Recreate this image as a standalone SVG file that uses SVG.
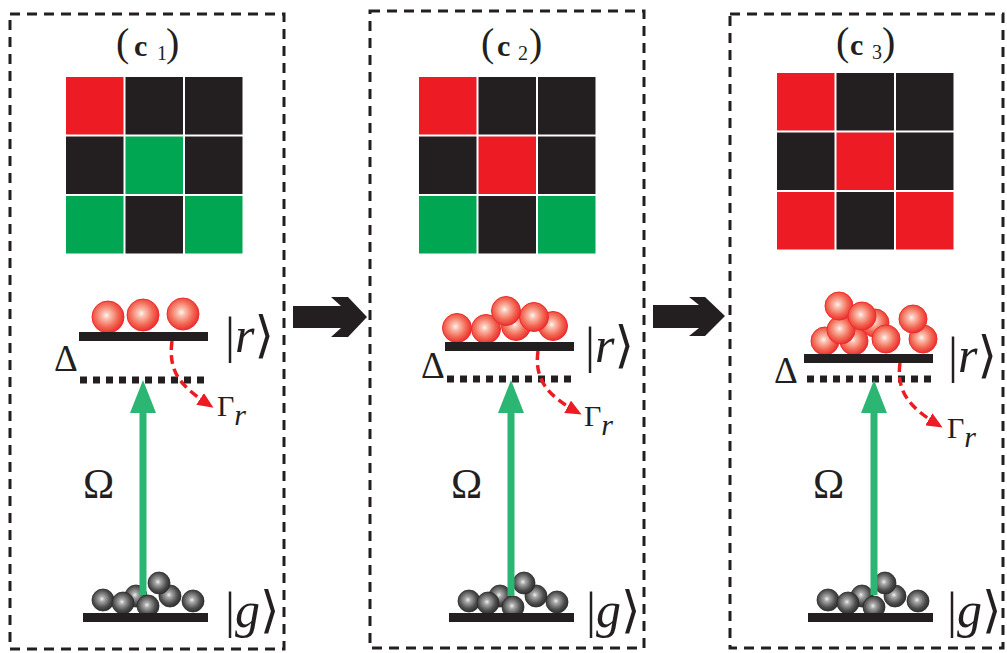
<svg xmlns="http://www.w3.org/2000/svg" width="1007" height="653" viewBox="0 0 1007 653" font-family="'Liberation Serif', 'DejaVu Serif', serif">
  <defs>
    <radialGradient id="redBall" cx="0.45" cy="0.45" r="0.6">
      <stop offset="0" stop-color="#FFF6F2"/>
      <stop offset="0.18" stop-color="#FBC2B2"/>
      <stop offset="0.6" stop-color="#F26A55"/>
      <stop offset="1" stop-color="#EC2027"/>
    </radialGradient>
    <radialGradient id="grayBall" cx="0.45" cy="0.45" r="0.6">
      <stop offset="0" stop-color="#F2F2F2"/>
      <stop offset="0.2" stop-color="#A9A9A9"/>
      <stop offset="0.65" stop-color="#4E4E4E"/>
      <stop offset="1" stop-color="#262626"/>
    </radialGradient>
    <marker id="redHead" markerWidth="16" markerHeight="14" refX="13" refY="7" orient="auto" markerUnits="userSpaceOnUse">
      <path d="M0,0 L16,7 L0,14 z" fill="#ED1C24"/>
    </marker>
  </defs>
  <style>
    .frame{fill:none;stroke:#231F20;stroke-width:3;stroke-dasharray:10 7}
    .cr{fill:#ED1C24}
    .ck{fill:#231F20}
    .cg{fill:#00A651}
    .bar{fill:#231F20}
    .lvl{stroke:#231F20;stroke-width:7;stroke-dasharray:7 6}
    .pump{stroke:#2BB673;stroke-width:7}
    .pumphead{fill:#2BB673}
    .decay{fill:none;stroke:#ED1C24;stroke-width:3.5;stroke-dasharray:9 5}
    .rb{fill:url(#redBall);stroke:#EE2A2A;stroke-width:1}
    .gb{fill:url(#grayBall);stroke:#2A2A2A;stroke-width:0.8}
    .step{fill:#231F20}
    text{fill:#231F20}
    .ket{font-size:50px}
    .title{font-size:40px}
    .tc{font-size:30px;font-weight:bold}
    .ts{font-size:20px}
    .big{font-size:42px}
    .delta{font-size:37px}
    .gam{font-size:30px}
    .it{font-style:italic}
  </style>

  <!-- panel c1 -->
  <g id="panel-c1">
    <rect class="frame" x="10" y="14" width="274" height="635"/>
    <text class="title" x="116" y="56">(</text>
    <text class="tc" x="134" y="56">c</text>
    <text class="ts" x="157" y="60">1</text>
    <text class="title" x="166" y="56">)</text>
    <rect class="cr" x="66" y="77" width="57.5" height="57.5"/>
    <rect class="ck" x="125.5" y="77" width="57.5" height="57.5"/>
    <rect class="ck" x="185" y="77" width="57.5" height="57.5"/>
    <rect class="ck" x="66" y="136.5" width="57.5" height="57.5"/>
    <rect class="cg" x="125.5" y="136.5" width="57.5" height="57.5"/>
    <rect class="ck" x="185" y="136.5" width="57.5" height="57.5"/>
    <rect class="cg" x="66" y="196" width="57.5" height="57.5"/>
    <rect class="ck" x="125.5" y="196" width="57.5" height="57.5"/>
    <rect class="cg" x="185" y="196" width="57.5" height="57.5"/>
  </g>
  <g id="rydberg-c1">
    <circle class="rb" cx="108" cy="317" r="16"/>
    <circle class="rb" cx="143" cy="315" r="16"/>
    <circle class="rb" cx="183" cy="314" r="16"/>
    <rect class="bar" x="79" y="332" width="129" height="9"/>
    <line class="lvl" x1="80" y1="380" x2="206" y2="380"/>
    <text class="delta" x="54" y="371">Δ</text>
    <text class="ket" x="225" y="352">|<tspan class="it">r</tspan>⟩</text>
    <text class="gam" x="217" y="416">Γ<tspan class="it" dy="9">r</tspan></text>
  </g>
  <g id="ground-c1">
    <circle class="gb" cx="136" cy="596" r="11"/>
    <circle class="gb" cx="103" cy="600" r="11"/>
    <circle class="gb" cx="123" cy="603" r="11"/>
    <circle class="gb" cx="170" cy="596" r="11"/>
    <circle class="gb" cx="148" cy="606" r="11"/>
    <circle class="gb" cx="159" cy="583" r="11"/>
    <circle class="gb" cx="193" cy="601" r="11"/>
    <rect class="bar" x="83" y="613" width="125" height="9"/>
    <text class="ket" x="225" y="627">|<tspan class="it">g</tspan>⟩</text>
    <text class="big" x="83" y="498">Ω</text>
  </g>

  <!-- panel c2 -->
  <g id="panel-c2">
    <rect class="frame" x="370" y="11" width="274" height="637"/>
    <text class="title" x="481" y="56">(</text>
    <text class="tc" x="497" y="56">c</text>
    <text class="ts" x="518" y="60">2</text>
    <text class="title" x="529" y="56">)</text>
    <rect class="cr" x="419" y="77" width="57.5" height="57.5"/>
    <rect class="ck" x="478.5" y="77" width="57.5" height="57.5"/>
    <rect class="ck" x="538" y="77" width="57.5" height="57.5"/>
    <rect class="ck" x="419" y="136.5" width="57.5" height="57.5"/>
    <rect class="cr" x="478.5" y="136.5" width="57.5" height="57.5"/>
    <rect class="ck" x="538" y="136.5" width="57.5" height="57.5"/>
    <rect class="cg" x="419" y="196" width="57.5" height="57.5"/>
    <rect class="ck" x="478.5" y="196" width="57.5" height="57.5"/>
    <rect class="cg" x="538" y="196" width="57.5" height="57.5"/>
  </g>
  <g id="rydberg-c2">
    <circle class="rb" cx="457" cy="328" r="14.5"/>
    <circle class="rb" cx="486" cy="329" r="14.5"/>
    <circle class="rb" cx="516" cy="326" r="14.5"/>
    <circle class="rb" cx="553" cy="326" r="14.5"/>
    <circle class="rb" cx="534" cy="317" r="14.5"/>
    <circle class="rb" cx="506" cy="311" r="14.5"/>
    <rect class="bar" x="445" y="342" width="129" height="9"/>
    <line class="lvl" x1="447" y1="379" x2="573" y2="379"/>
    <text class="delta" x="421" y="378">Δ</text>
    <text class="ket" x="585" y="362">|<tspan class="it">r</tspan>⟩</text>
    <text class="gam" x="584" y="426">Γ<tspan class="it" dy="9">r</tspan></text>
  </g>
  <g id="ground-c2">
    <circle class="gb" cx="500" cy="596" r="11"/>
    <circle class="gb" cx="469" cy="601" r="11"/>
    <circle class="gb" cx="488" cy="603" r="11"/>
    <circle class="gb" cx="536" cy="596" r="11"/>
    <circle class="gb" cx="513" cy="607" r="11"/>
    <circle class="gb" cx="524" cy="583" r="11"/>
    <circle class="gb" cx="557" cy="602" r="11"/>
    <rect class="bar" x="449" y="613" width="125" height="9"/>
    <text class="ket" x="586" y="627">|<tspan class="it">g</tspan>⟩</text>
    <text class="big" x="451" y="498">Ω</text>
  </g>

  <!-- panel c3 -->
  <g id="panel-c3">
    <rect class="frame" x="730" y="14" width="273" height="634"/>
    <text class="title" x="836" y="55">(</text>
    <text class="tc" x="850" y="55">c</text>
    <text class="ts" x="872" y="59">3</text>
    <text class="title" x="882" y="55">)</text>
    <rect class="cr" x="777" y="73" width="57.5" height="57.5"/>
    <rect class="ck" x="836.5" y="73" width="57.5" height="57.5"/>
    <rect class="ck" x="896" y="73" width="57.5" height="57.5"/>
    <rect class="ck" x="777" y="132.5" width="57.5" height="57.5"/>
    <rect class="cr" x="836.5" y="132.5" width="57.5" height="57.5"/>
    <rect class="ck" x="896" y="132.5" width="57.5" height="57.5"/>
    <rect class="cr" x="777" y="192" width="57.5" height="57.5"/>
    <rect class="ck" x="836.5" y="192" width="57.5" height="57.5"/>
    <rect class="cr" x="896" y="192" width="57.5" height="57.5"/>
  </g>
  <g id="rydberg-c3">
    <circle class="rb" cx="875" cy="323" r="14"/>
    <circle class="rb" cx="825" cy="341" r="14"/>
    <circle class="rb" cx="854" cy="341" r="14"/>
    <circle class="rb" cx="886" cy="339" r="14"/>
    <circle class="rb" cx="841" cy="330" r="14"/>
    <circle class="rb" cx="839" cy="306" r="14"/>
    <circle class="rb" cx="862" cy="316" r="14"/>
    <circle class="rb" cx="923" cy="339" r="14"/>
    <circle class="rb" cx="913" cy="319" r="14"/>
    <rect class="bar" x="804" y="354" width="129" height="9"/>
    <line class="lvl" x1="807" y1="379" x2="933" y2="379"/>
    <text class="delta" x="774" y="383">Δ</text>
    <text class="ket" x="948" y="372">|<tspan class="it">r</tspan>⟩</text>
    <text class="gam" x="947" y="438">Γ<tspan class="it" dy="9">r</tspan></text>
  </g>
  <g id="ground-c3">
    <circle class="gb" cx="862" cy="596" r="11"/>
    <circle class="gb" cx="828" cy="600" r="11"/>
    <circle class="gb" cx="848" cy="603" r="11"/>
    <circle class="gb" cx="895" cy="596" r="11"/>
    <circle class="gb" cx="874" cy="607" r="11"/>
    <circle class="gb" cx="885" cy="583" r="11"/>
    <circle class="gb" cx="918" cy="601" r="11"/>
    <rect class="bar" x="808" y="613" width="125" height="9"/>
    <text class="ket" x="947" y="627">|<tspan class="it">g</tspan>⟩</text>
    <text class="big" x="813" y="498">Ω</text>
  </g>

  <!-- transitions and step arrows -->
  <g id="connectors">
    <line class="pump" x1="143" y1="595" x2="143" y2="405"/>
    <polygon class="pumphead" points="143,380 130,413 156,413"/>
    <line class="pump" x1="511" y1="596" x2="511" y2="405"/>
    <polygon class="pumphead" points="511,380 498,413 524,413"/>
    <line class="pump" x1="874" y1="595" x2="874" y2="405"/>
    <polygon class="pumphead" points="874,380 861,413 887,413"/>

    <path class="decay" d="M172,341 C168,372 180,386 211,406" marker-end="url(#redHead)"/>
    <path class="decay" d="M538,351 C534,380 548,396 579,413" marker-end="url(#redHead)"/>
    <path class="decay" d="M900,363 C896,392 910,408 940,426" marker-end="url(#redHead)"/>

    <polygon class="step" points="293,306 341,306 331,297 348,297 367,317 348,337 331,337 341,328 293,328"/>
    <polygon class="step" points="653,305 699,305 689,297 705,297 725,316 705,336 689,336 699,328 653,328"/>
  </g>
</svg>
